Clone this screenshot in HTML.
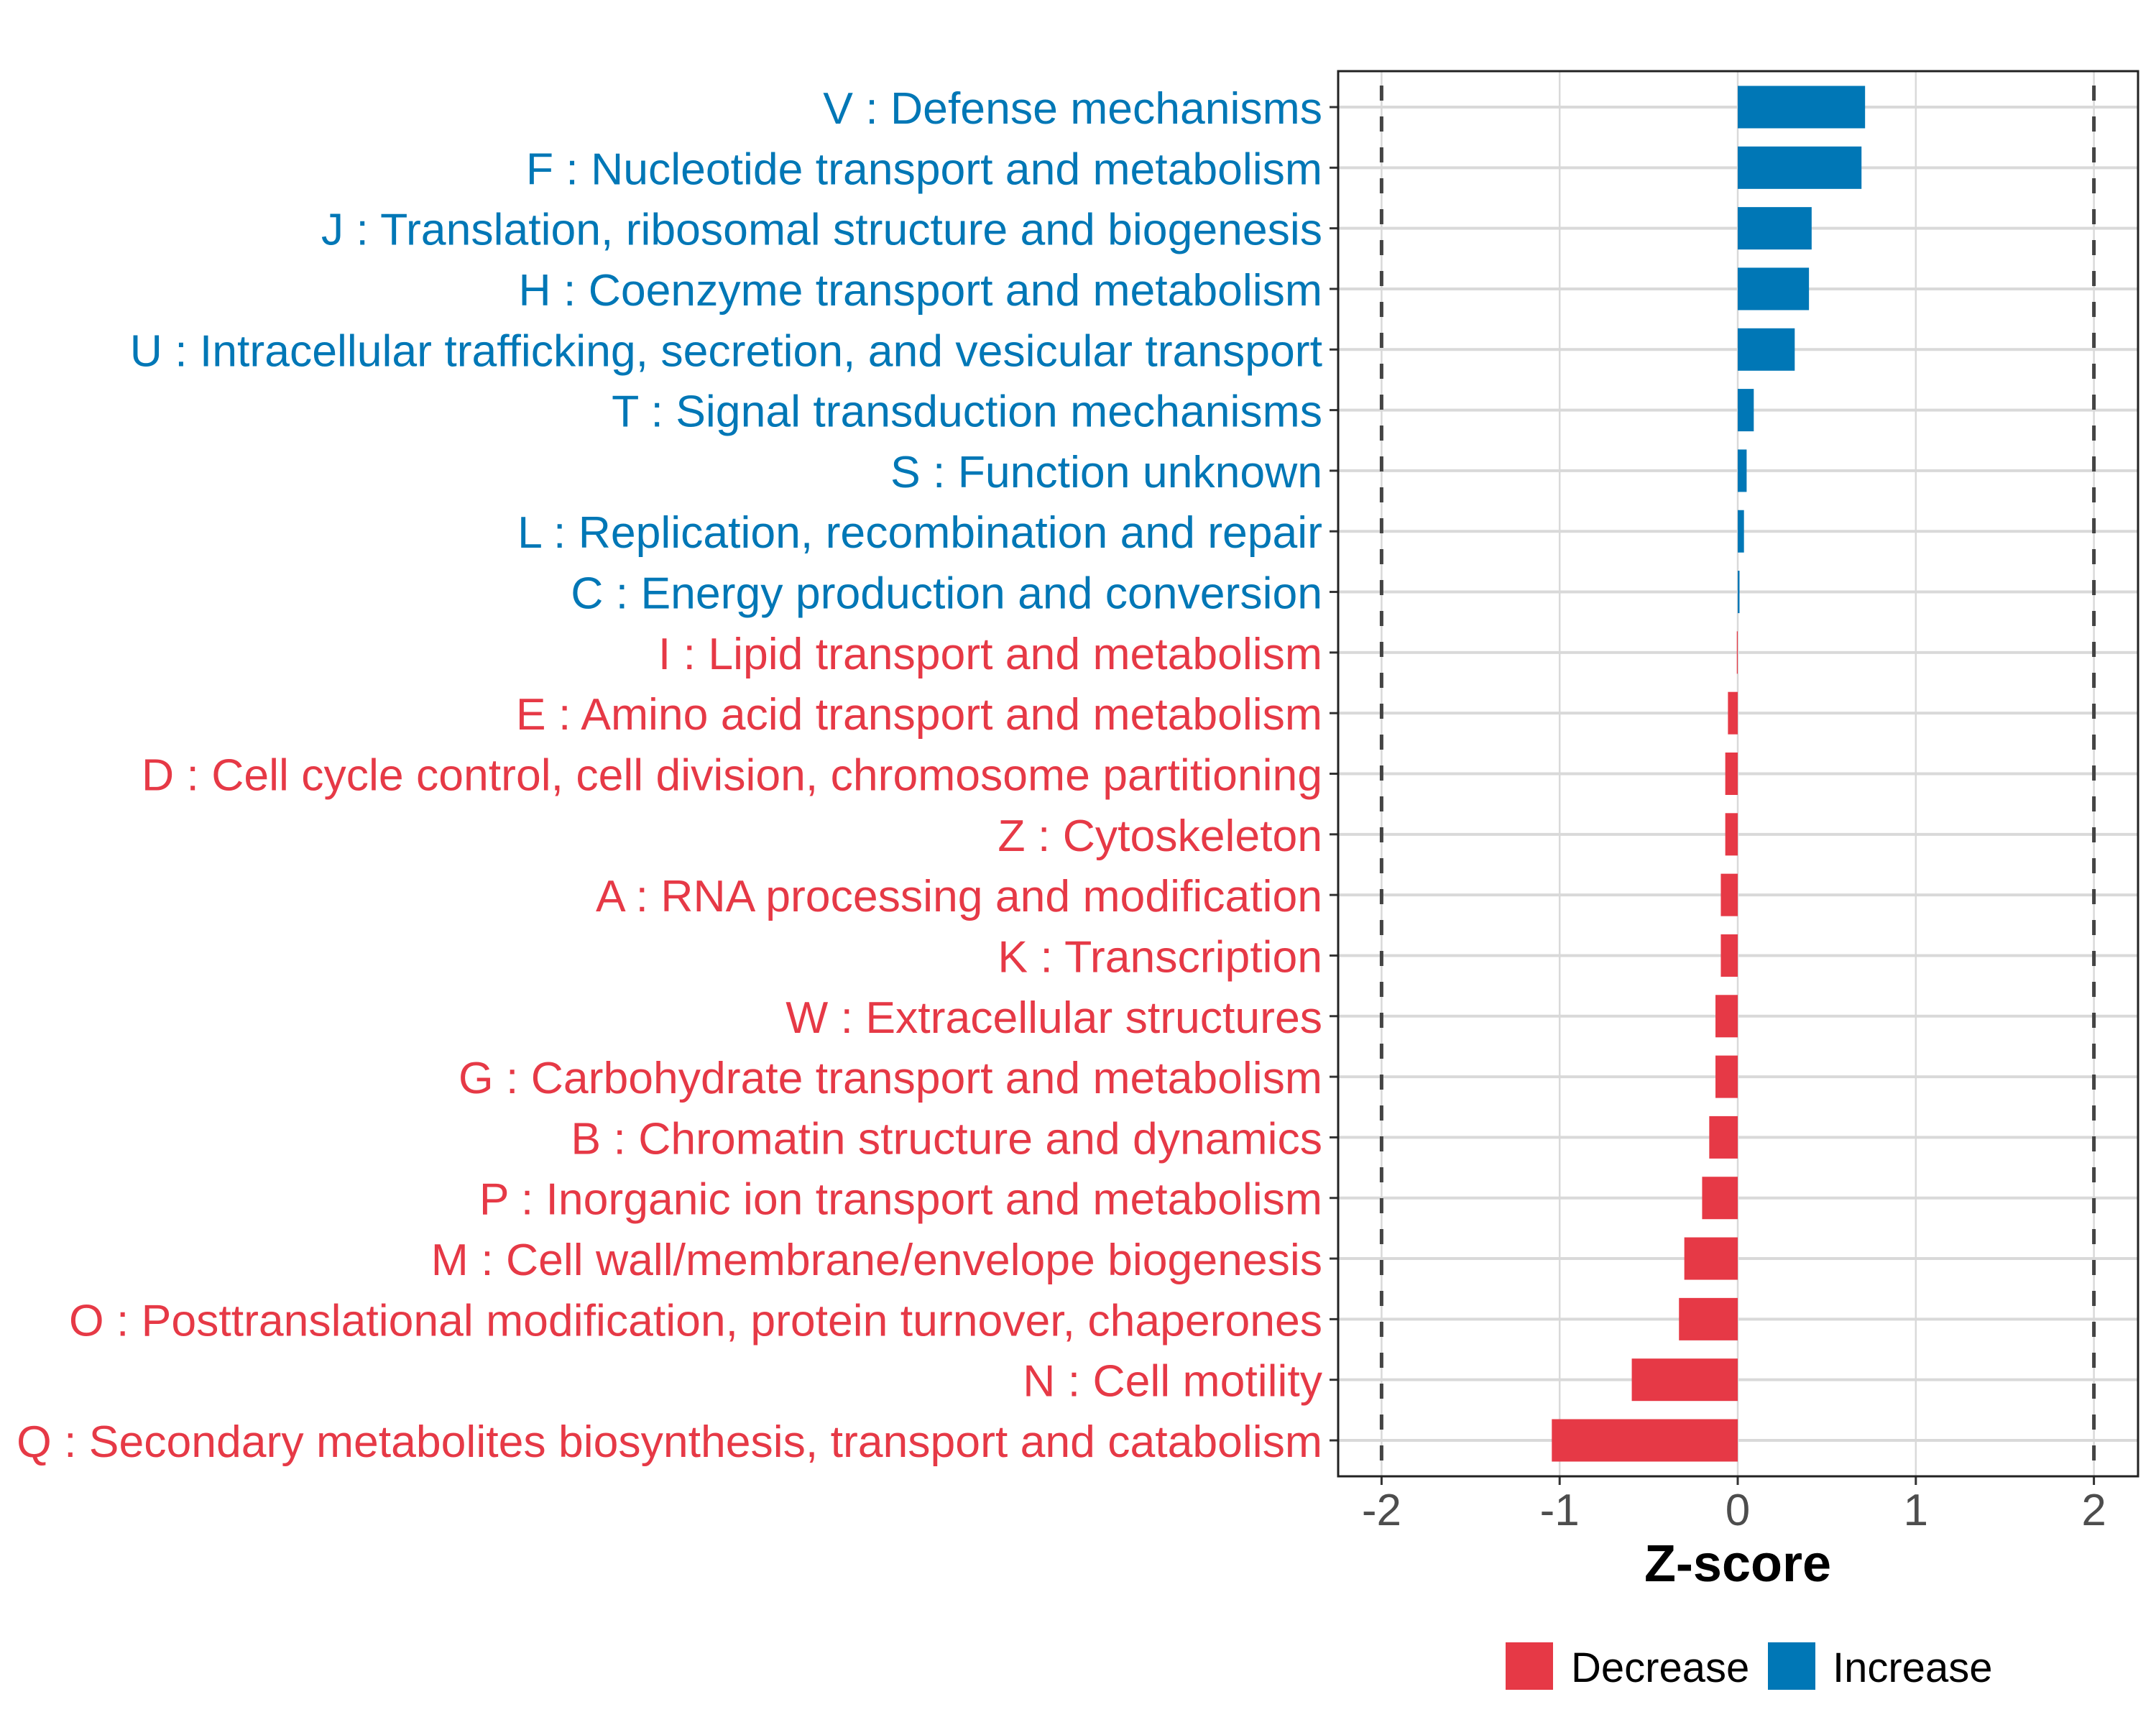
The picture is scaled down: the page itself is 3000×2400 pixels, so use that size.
<!DOCTYPE html>
<html><head><meta charset="utf-8"><style>html,body{margin:0;padding:0;background:#fff}svg{display:block}text{font-family:"Liberation Sans",Arial,sans-serif}</style></head>
<body>
<svg id="chart" width="3000" height="2400" viewBox="0 0 3000 2400" xmlns="http://www.w3.org/2000/svg">
<rect width="3000" height="2400" fill="#fff"/>
<g id="grid"></g>
<g id="bars"></g>
<g id="labels"></g>
<g id="xaxis"></g>
<rect x="1862" y="99" width="1113" height="1955" fill="none" stroke="#222" stroke-width="3"/>
<text x="2418" y="2200" font-size="72" font-weight="bold" text-anchor="middle" fill="#000">Z-score</text>
<g>
<rect x="2095" y="2285" width="66" height="66" fill="#E63946"/>
<text x="2186" y="2340" font-size="58" fill="#000">Decrease</text>
<rect x="2460" y="2285" width="66" height="66" fill="#0077B6"/>
<text x="2550" y="2340" font-size="58" fill="#000">Increase</text>
</g>
</svg>
<script>
const categories = ["V : Defense mechanisms","F : Nucleotide transport and metabolism","J : Translation, ribosomal structure and biogenesis","H : Coenzyme transport and metabolism","U : Intracellular trafficking, secretion, and vesicular transport","T : Signal transduction mechanisms","S : Function unknown","L : Replication, recombination and repair","C : Energy production and conversion","I : Lipid transport and metabolism","E : Amino acid transport and metabolism","D : Cell cycle control, cell division, chromosome partitioning","Z : Cytoskeleton","A : RNA processing and modification","K : Transcription","W : Extracellular structures","G : Carbohydrate transport and metabolism","B : Chromatin structure and dynamics","P : Inorganic ion transport and metabolism","M : Cell wall/membrane/envelope biogenesis","O : Posttranslational modification, protein turnover, chaperones","N : Cell motility","Q : Secondary metabolites biosynthesis, transport and catabolism"];
const zscores = [0.715,0.695,0.415,0.40,0.32,0.09,0.05,0.035,0.01,-0.005,-0.055,-0.07,-0.07,-0.095,-0.095,-0.125,-0.125,-0.16,-0.2,-0.3,-0.33,-0.595,-1.044];
const xTicks = [-2,-1,0,1,2];
const xTickLabels = ["-2","-1","0","1","2"];
const thresholds = [-2,2];

const NS="http://www.w3.org/2000/svg";
const L=1862,R=2975,T=99,B=2054;
function xs(v){return 2418+v*247.8;}
function ys(i){return 149+i*(2004-149)/(categories.length-1);}
const bandH=59;
function mk(tag,attrs,parent){const e=document.createElementNS(NS,tag);for(const k in attrs)e.setAttribute(k,attrs[k]);parent.appendChild(e);return e;}
const grid=document.getElementById('grid'),bars=document.getElementById('bars'),labels=document.getElementById('labels'),xaxis=document.getElementById('xaxis');
xTicks.forEach((t,i)=>{
  const g=mk('line',{x1:xs(t),x2:xs(t),y1:T,y2:B,stroke:'#d9d9d9','stroke-width':2.5},grid);
  
  
  const tk=mk('line',{x1:xs(t),x2:xs(t),y1:B,y2:B+12,stroke:'#333','stroke-width':3},xaxis);
  
  
  const tl=mk('text',{x:xs(t),y:2122,'font-size':62,'text-anchor':'middle',fill:'#4d4d4d'},xaxis);
  tl.textContent=xTickLabels[i];
  
  
});
categories.forEach((c,i)=>{
  const y=ys(i);
  const g=mk('line',{x1:L,x2:R,y1:y,y2:y,stroke:'#d9d9d9','stroke-width':4},grid);
  
  
  const v=zscores[i];
  const col=v>=0?'#0077B6':'#E63946';
  const x0=Math.min(xs(0),xs(v)),w=Math.abs(xs(v)-xs(0));
  const b=mk('rect',{x:x0,y:y-bandH/2,width:Math.max(w,0.8),height:bandH,fill:col},bars);
  
  
  const tk=mk('line',{x1:L-12,x2:L,y1:y,y2:y,stroke:'#333','stroke-width':3},labels);
  
  
  const t=mk('text',{x:1840,y:y+23,'font-size':62.5,'text-anchor':'end',fill:col},labels);
  t.textContent=c;
  
  
});
thresholds.forEach(t=>{
  const d=mk('line',{x1:xs(t),x2:xs(t),y1:T,y2:B,stroke:'#444','stroke-width':5,'stroke-dasharray':'21 22','stroke-dashoffset':'-20'},bars);
  
  
});
</script>
</body></html>
